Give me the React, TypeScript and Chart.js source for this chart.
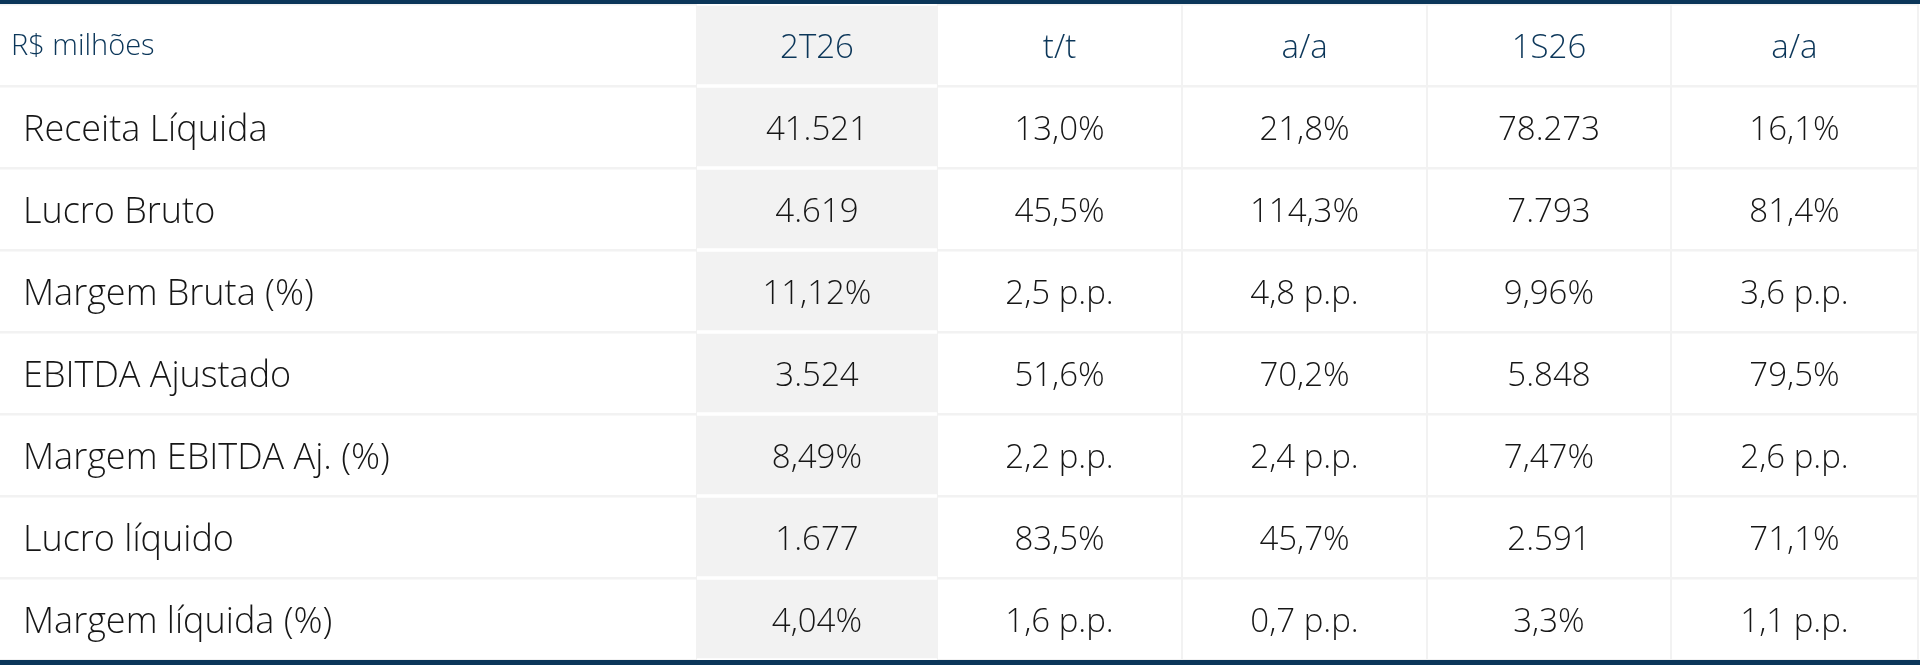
import React, { useEffect, useRef } from "react";
import { Chart, registerables } from "chart.js";

Chart.register(...registerables);

// ---- data ----
const HEADER_LABEL = "R$ milhões";
const COLUMNS = ["2T26", "t/t", "a/a", "1S26", "a/a"];
const ROW_LABELS = [
  "Receita Líquida",
  "Lucro Bruto",
  "Margem Bruta (%)",
  "EBITDA Ajustado",
  "Margem EBITDA Aj. (%)",
  "Lucro líquido",
  "Margem líquida (%)",
];
const V_2T26 = ["41.521", "4.619", "11,12%", "3.524", "8,49%", "1.677", "4,04%"];
const V_TT = ["13,0%", "45,5%", "2,5 p.p.", "51,6%", "2,2 p.p.", "83,5%", "1,6 p.p."];
const V_AA = ["21,8%", "114,3%", "4,8 p.p.", "70,2%", "2,4 p.p.", "45,7%", "0,7 p.p."];
const V_1S26 = ["78.273", "7.793", "9,96%", "5.848", "7,47%", "2.591", "3,3%"];
const V_AA2 = ["16,1%", "81,4%", "3,6 p.p.", "79,5%", "2,6 p.p.", "71,1%", "1,1 p.p."];
const COLUMN_VALUES = [V_2T26, V_TT, V_AA, V_1S26, V_AA2];

// ---- layout (scale units, 0..100 across the table) ----
const COL_EDGES = [0, 36.34, 48.85, 61.63, 74.4, 87.12, 100];
const HIGHLIGHT_COL = 0; // index into COLUMNS

const NAVY = "#0b3659";
const FONT = "'Open Sans', 'Noto Sans', sans-serif";

export default function App() {
  const ref = useRef<HTMLCanvasElement | null>(null);

  useEffect(() => {
    document.body.style.margin = "0";
    const canvas = ref.current;
    if (!canvas) return;

    const yLabels = ["header", ...ROW_LABELS];
    const x0 = COL_EDGES[HIGHLIGHT_COL + 1];
    const x1 = COL_EDGES[HIGHLIGHT_COL + 2];

    const textPlugin = {
      id: "tableText",
      afterDatasetsDraw(chart: any) {
        const { ctx, scales, chartArea } = chart;
        const xs = scales.x;
        const ys = scales.y;
        ctx.save();
        // header row
        const hy = ys.getPixelForValue(0);
        ctx.fillStyle = NAVY;
        ctx.textBaseline = "alphabetic";
        ctx.font = `300 29px ${FONT}`;
        ctx.textAlign = "left";
        ctx.fillText(HEADER_LABEL, xs.getPixelForValue(0) + 11, hy + 10);
        ctx.font = `300 33px ${FONT}`;
        ctx.textAlign = "center";
        COLUMNS.forEach((c, j) => {
          const cx = xs.getPixelForValue((COL_EDGES[j + 1] + COL_EDGES[j + 2]) / 2);
          ctx.fillText(c, cx, hy + 13);
        });
        // data rows
        ctx.fillStyle = "#161616";
        ROW_LABELS.forEach((lab, i) => {
          const cy = ys.getPixelForValue(i + 1);
          ctx.font = `300 36px ${FONT}`;
          ctx.textAlign = "left";
          ctx.fillText(lab, xs.getPixelForValue(0) + 23, cy + 14);
          ctx.font = `300 33px ${FONT}`;
          ctx.textAlign = "center";
          COLUMN_VALUES.forEach((vals, j) => {
            const cx = xs.getPixelForValue((COL_EDGES[j + 1] + COL_EDGES[j + 2]) / 2);
            ctx.fillText(vals[i], cx, cy + 13);
          });
        });
        // top & bottom rules
        ctx.fillStyle = NAVY;
        ctx.fillRect(0, chartArea.top - 4, chart.width, 4);
        ctx.fillRect(0, chartArea.bottom, chart.width, 5);
        ctx.restore();
      },
    };

    const chart = new Chart(canvas, {
      type: "bar",
      data: {
        labels: yLabels,
        datasets: [
          {
            data: yLabels.map(() => [x0, x1]) as any,
            backgroundColor: "#f2f2f2",
            borderColor: "#ffffff",
            borderWidth: { top: 2, bottom: 2, left: 0, right: 0 } as any,
            borderSkipped: false,
            barPercentage: 1,
            categoryPercentage: 1,
          },
        ],
      },
      options: {
        indexAxis: "y",
        animation: false,
        responsive: true,
        maintainAspectRatio: false,
        layout: { padding: { top: 4, bottom: 6, left: 0, right: 2 } },
        plugins: { legend: { display: false }, tooltip: { enabled: false } },
        events: [],
        scales: {
          x: {
            type: "linear",
            min: 0,
            max: 100,
            afterBuildTicks: (scale: any) => {
              scale.ticks = COL_EDGES.slice(1).map((v) => ({ value: v }));
            },
            ticks: { display: false },
            border: { display: false },
            grid: { color: "#f2f2f2", lineWidth: 2, drawTicks: false },
          },
          y: {
            type: "category",
            offset: true,
            ticks: { display: false },
            border: { display: false },
            grid: { offset: true, color: "#f2f2f2", lineWidth: 2.5, drawTicks: false },
          },
        },
      },
      plugins: [textPlugin],
    });
    return () => chart.destroy();
  }, []);

  return (
    <div style={{ position: "fixed", left: 0, top: 0, width: 1920, height: 666, background: "#fff" }}>
      <canvas ref={ref} />
    </div>
  );
}
